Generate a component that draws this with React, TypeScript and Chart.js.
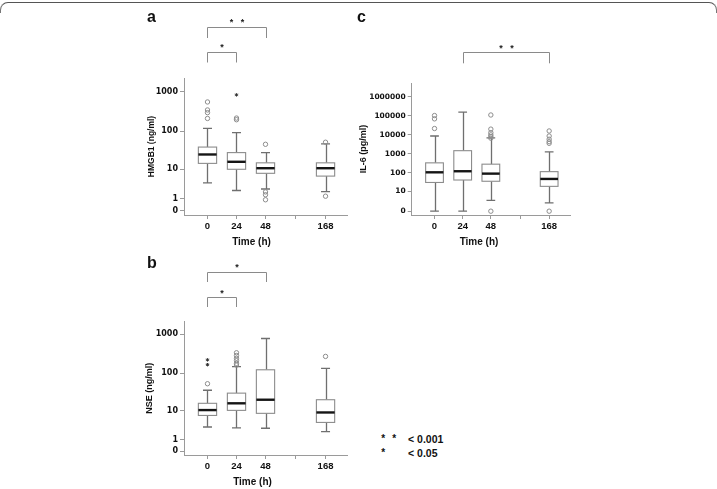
import React, { useEffect, useRef } from 'react';
import { Chart, registerables } from 'chart.js';

Chart.register(...registerables);

// ---------------- data ----------------
const TIMES = ['0', '24', '48', '168'];

// Panel a: HMGB1 (ng/ml)
const HMGB1_Y_TICKS = [0, 1, 10, 100, 1000];
const HMGB1_LOW = [4, 2.2, 2.5, 2.0];
const HMGB1_Q1 = [14.5, 10, 7.7, 6.4];
const HMGB1_MEDIAN = [25, 16, 10.7, 10.7];
const HMGB1_Q3 = [39, 28, 15, 15];
const HMGB1_HIGH = [117, 92, 28, 47];
const HMGB1_OUTLIERS = [[550, 345, 295, 210], [215, 195], [46, 1.95, 1.5, 0.87], [52, 1.3]];
const HMGB1_EXTREMES = [[], [830], [], []];

// Panel b: NSE (ng/ml)
const NSE_Y_TICKS = [0, 1, 10, 100, 1000];
const NSE_LOW = [3.2, 3.0, 2.9, 2.2];
const NSE_Q1 = [7.3, 10.2, 8.4, 4.5];
const NSE_MEDIAN = [10.4, 16, 20, 8.9];
const NSE_Q3 = [16, 30, 122, 20];
const NSE_HIGH = [35.7, 147, 780, 132];
const NSE_OUTLIERS = [[53], [335, 285, 242, 210, 179, 162], [], [270]];
const NSE_EXTREMES = [[220, 165], [], [], []];

// Panel c: IL-6 (pg/ml)
const IL6_Y_TICKS = [0, 10, 100, 1000, 10000, 100000, 1000000];
const IL6_LOW = [0, 0, 2.7, 1.7];
const IL6_Q1 = [31, 42, 36, 19];
const IL6_MEDIAN = [108, 123, 92, 48];
const IL6_Q3 = [340, 1480, 290, 117];
const IL6_HIGH = [8700, 155000, 6900, 1290];
const IL6_OUTLIERS = [
  [103000, 69000, 21500],
  [],
  [110000, 20000, 13000, 10000, 8100, 6700, 0],
  [16000, 8700, 5900, 4400, 3600, 0],
];
const IL6_EXTREMES = [[], [], [], []];

// ---------------- layout ----------------
const SLOTS = [0, 1, 2, 4.07];
const GAP_TICK = 3.04;
const X_TICKS = [SLOTS[0], SLOTS[1], SLOTS[2], GAP_TICK, SLOTS[3]];
const X_LABELS = [TIMES[0], TIMES[1], TIMES[2], '', TIMES[3]];

const tf = (v: number) => Math.log10(v + 1);

const FONT = '"Liberation Sans", Arial, Helvetica, sans-serif';

type Bracket = { from: number; to: number; lineY: number; legY: number; stars: number; textY: number };

interface PanelCfg {
  left: number;
  top: number;
  width: number;
  height: number;
  area: { l: number; t: number; r: number; b: number };
  yMin: number;
  yMax: number;
  yTicks: number[];
  yTitle: string;
  yTitleSize: number;
  yTitleX: number;
  yTickSize: number;
  low: number[];
  q1: number[];
  med: number[];
  q3: number[];
  high: number[];
  outliers: number[][];
  extremes: number[][];
  brackets: Bracket[];
}

const PANELS: PanelCfg[] = [
  {
    left: 130, top: 0, width: 230, height: 252,
    area: { l: 184, t: 78, r: 347, b: 215 },
    yMin: -0.113, yMax: 3.346,
    yTicks: HMGB1_Y_TICKS,
    yTitle: 'HMGB1 (ng/ml)', yTitleSize: 8.5, yTitleX: 151.7, yTickSize: 8,
    low: HMGB1_LOW, q1: HMGB1_Q1, med: HMGB1_MEDIAN, q3: HMGB1_Q3, high: HMGB1_HIGH,
    outliers: HMGB1_OUTLIERS, extremes: HMGB1_EXTREMES,
    brackets: [
      { from: 0, to: 2, lineY: 27, legY: 38, stars: 2, textY: 19.5 },
      { from: 0, to: 1, lineY: 52, legY: 62.5, stars: 1, textY: 45 },
    ],
  },
  {
    left: 130, top: 252, width: 230, height: 237,
    area: { l: 184, t: 321.7, r: 347, b: 455 },
    yMin: -0.095, yMax: 3.323,
    yTicks: NSE_Y_TICKS,
    yTitle: 'NSE (ng/ml)', yTitleSize: 9, yTitleX: 150, yTickSize: 8,
    low: NSE_LOW, q1: NSE_Q1, med: NSE_MEDIAN, q3: NSE_Q3, high: NSE_HIGH,
    outliers: NSE_OUTLIERS, extremes: NSE_EXTREMES,
    brackets: [
      { from: 0, to: 2, lineY: 271.5, legY: 282, stars: 1, textY: 265 },
      { from: 0, to: 1, lineY: 297, legY: 307, stars: 1, textY: 290.5 },
    ],
  },
  {
    left: 355, top: 0, width: 230, height: 252,
    area: { l: 411.7, t: 83, r: 570, b: 215 },
    yMin: -0.2, yMax: 6.718,
    yTicks: IL6_Y_TICKS,
    yTitle: 'IL-6 (pg/ml)', yTitleSize: 9, yTitleX: 363.3, yTickSize: 7.5,
    low: IL6_LOW, q1: IL6_Q1, med: IL6_MEDIAN, q3: IL6_Q3, high: IL6_HIGH,
    outliers: IL6_OUTLIERS, extremes: IL6_EXTREMES,
    brackets: [{ from: 1, to: 3, lineY: 52.3, legY: 63.3, stars: 2, textY: 45.7 }],
  },
];

function makeChart(canvas: HTMLCanvasElement, cfg: PanelCfg) {
  const padTop = cfg.area.t - cfg.top;
  const padRight = cfg.left + cfg.width - cfg.area.r;
  const yW = cfg.area.l - cfg.left;
  const xH = cfg.top + cfg.height - cfg.area.b;
  const titleLH = cfg.yTitleSize * 1.2;
  const titlePad = cfg.yTitleX - cfg.left - titleLH / 2;

  const outlierPts = cfg.outliers.flatMap((arr, i) => arr.map((v) => ({ x: SLOTS[i], y: tf(v) })));
  const extremePts = cfg.extremes.flatMap((arr, i) => arr.map((v) => ({ x: SLOTS[i], y: tf(v) })));

  const boxPlugin = {
    id: 'boxes',
    beforeDatasetsDraw(chart: any) {
      const { ctx, scales } = chart;
      const x = scales.x;
      const y = scales.y;
      const hw = 0.315;
      const cw = 0.155;
      ctx.save();
      for (let i = 0; i < SLOTS.length; i++) {
        const xc = Math.round(x.getPixelForValue(SLOTS[i])) + 0.5;
        const xl = x.getPixelForValue(SLOTS[i] - hw);
        const xr = x.getPixelForValue(SLOTS[i] + hw);
        const cl = x.getPixelForValue(SLOTS[i] - cw);
        const cr = x.getPixelForValue(SLOTS[i] + cw);
        const yLow = y.getPixelForValue(tf(cfg.low[i]));
        const yQ1 = y.getPixelForValue(tf(cfg.q1[i]));
        const yMed = y.getPixelForValue(tf(cfg.med[i]));
        const yQ3 = y.getPixelForValue(tf(cfg.q3[i]));
        const yHigh = y.getPixelForValue(tf(cfg.high[i]));
        ctx.strokeStyle = '#6f6f6f';
        ctx.lineWidth = 1.3;
        ctx.beginPath();
        ctx.moveTo(xc, yHigh);
        ctx.lineTo(xc, yQ3);
        ctx.moveTo(xc, yQ1);
        ctx.lineTo(xc, yLow);
        ctx.moveTo(cl, yHigh);
        ctx.lineTo(cr, yHigh);
        ctx.moveTo(cl, yLow);
        ctx.lineTo(cr, yLow);
        ctx.stroke();
        ctx.fillStyle = '#ffffff';
        ctx.fillRect(xl, yQ3, xr - xl, yQ1 - yQ3);
        ctx.strokeStyle = '#8c8c8c';
        ctx.lineWidth = 1.1;
        ctx.strokeRect(xl, yQ3, xr - xl, yQ1 - yQ3);
        ctx.strokeStyle = '#151515';
        ctx.lineWidth = 2.4;
        ctx.beginPath();
        ctx.moveTo(xl, yMed);
        ctx.lineTo(xr, yMed);
        ctx.stroke();
      }
      ctx.restore();
    },
  };

  const bracketPlugin = {
    id: 'brackets',
    afterDraw(chart: any) {
      const { ctx, scales } = chart;
      const x = scales.x;
      ctx.save();
      for (const b of cfg.brackets) {
        const x1 = Math.round(x.getPixelForValue(SLOTS[b.from])) + 0.5;
        const x2 = Math.round(x.getPixelForValue(SLOTS[b.to])) + 0.5;
        const ly = Math.round(b.lineY - cfg.top) + 0.5;
        const lg = b.legY - cfg.top;
        ctx.strokeStyle = '#8a8a8a';
        ctx.lineWidth = 1;
        ctx.beginPath();
        ctx.moveTo(x1, lg);
        ctx.lineTo(x1, ly);
        ctx.lineTo(x2, ly);
        ctx.lineTo(x2, lg);
        ctx.stroke();
        ctx.fillStyle = '#1a1a1a';
        ctx.font = `bold 9px ${FONT}`;
        ctx.textAlign = 'center';
        ctx.textBaseline = 'alphabetic';
        const cx = (x1 + x2) / 2;
        const ty = b.textY - cfg.top + 5.2;
        if (b.stars === 2) {
          ctx.fillText('*', cx - 5.5, ty);
          ctx.fillText('*', cx + 5.5, ty);
        } else {
          ctx.fillText('*', cx, ty);
        }
      }
      ctx.restore();
    },
  };

  return new Chart(canvas, {
    type: 'scatter',
    data: {
      datasets: [
        {
          label: 'outliers',
          data: outlierPts,
          pointStyle: 'circle',
          pointRadius: 2.2,
          borderColor: '#8c8c8c',
          backgroundColor: 'rgba(255,255,255,0)',
          borderWidth: 1,
        },
        {
          label: 'extremes',
          data: extremePts,
          pointStyle: 'star',
          pointRadius: 1.7,
          borderColor: '#333333',
          backgroundColor: '#333333',
          borderWidth: 1,
        },
      ],
    },
    options: {
      animation: false,
      responsive: false,
      events: [],
      layout: { padding: { left: 0, top: padTop, right: padRight, bottom: 0 } },
      plugins: { legend: { display: false }, tooltip: { enabled: false } },
      scales: {
        x: {
          type: 'linear',
          min: -0.81,
          max: 4.81,
          afterBuildTicks: (s: any) => {
            s.ticks = X_TICKS.map((v) => ({ value: v }));
          },
          afterFit: (s: any) => {
            s.height = xH;
          },
          ticks: {
            autoSkip: false,
            maxRotation: 0,
            padding: 2,
            color: '#111',
            font: { family: FONT, size: 9.5, weight: 'bold' },
            callback: (_v: any, i: number) => X_LABELS[i],
          },
          grid: { drawOnChartArea: false, drawTicks: true, tickLength: 4, color: '#9a9a9a' },
          border: { color: '#9a9a9a', width: 1 },
        },
        y: {
          type: 'linear',
          min: cfg.yMin,
          max: cfg.yMax,
          afterBuildTicks: (s: any) => {
            s.ticks = cfg.yTicks.map((v) => ({ value: tf(v) }));
          },
          afterFit: (s: any) => {
            s.width = yW;
          },
          ticks: {
            autoSkip: false,
            padding: 2,
            color: '#111',
            font: { family: '"DejaVu Sans", sans-serif', size: cfg.yTickSize, weight: 'bold' },
            callback: (_v: any, i: number) => String(cfg.yTicks[i]),
          },
          grid: { drawOnChartArea: false, drawTicks: true, tickLength: 4, color: '#9a9a9a' },
          border: { color: '#9a9a9a', width: 1 },
          title: {
            display: true,
            text: cfg.yTitle,
            color: '#111',
            font: { family: FONT, size: cfg.yTitleSize, weight: 'bold' },
            padding: { top: titlePad, bottom: 0 },
          },
        },
      },
    },
    plugins: [boxPlugin, bracketPlugin],
  } as any);
}

function Panel({ cfg }: { cfg: PanelCfg }) {
  const ref = useRef<HTMLCanvasElement>(null);
  useEffect(() => {
    if (!ref.current) return;
    const chart = makeChart(ref.current, cfg);
    return () => chart.destroy();
  }, [cfg]);
  return (
    <canvas
      ref={ref}
      width={cfg.width}
      height={cfg.height}
      style={{ position: 'absolute', left: cfg.left, top: cfg.top, width: cfg.width, height: cfg.height }}
    />
  );
}

function Txt({
  x,
  base,
  size,
  text,
  center = false,
}: {
  x: number;
  base: number;
  size: number;
  text: string;
  center?: boolean;
}) {
  return (
    <div
      style={{
        position: 'absolute',
        left: x,
        top: base - 0.8465 * size,
        fontSize: size,
        lineHeight: `${size}px`,
        fontFamily: FONT,
        fontWeight: 700,
        color: '#111',
        whiteSpace: 'nowrap',
        transform: center ? 'translateX(-50%)' : undefined,
      }}
    >
      {text}
    </div>
  );
}

export default function App() {
  return (
    <div
      style={{
        position: 'absolute',
        left: 0,
        top: 0,
        width: 717,
        height: 489,
        background: '#fff',
        overflow: 'hidden',
      }}
    >
      <div
        style={{
          position: 'absolute',
          left: 0,
          top: 2,
          width: 717,
          height: 11,
          boxSizing: 'border-box',
          borderTop: '1.5px solid #555',
          borderLeft: '1.5px solid #777',
          borderRight: '1.5px solid #777',
          borderRadius: '8px 8px 0 0',
        }}
      />
      {PANELS.map((p, i) => (
        <Panel key={i} cfg={p} />
      ))}
      <Txt x={147} base={23} size={16} text="a" />
      <Txt x={147} base={269} size={16} text="b" />
      <Txt x={357} base={22.7} size={16} text="c" />
      <Txt x={251.5} base={245} size={10} text="Time (h)" center />
      <Txt x={252.5} base={485.5} size={10} text="Time (h)" center />
      <Txt x={479} base={245.5} size={10} text="Time (h)" center />
      <Txt x={383.3} base={442.7} size={10} text="*" center />
      <Txt x={394.3} base={442.7} size={10} text="*" center />
      <Txt x={408} base={442.7} size={10.5} text="< 0.001" />
      <Txt x={383.3} base={456.7} size={10} text="*" center />
      <Txt x={408} base={456.7} size={10.5} text="< 0.05" />
    </div>
  );
}
